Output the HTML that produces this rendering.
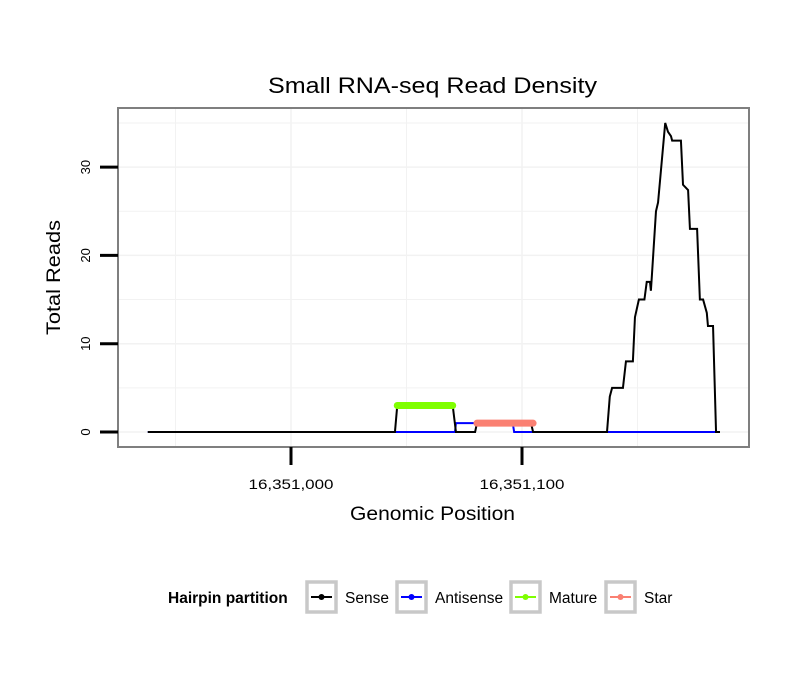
<!DOCTYPE html>
<html><head><meta charset="utf-8"><style>
body{margin:0;background:#fff;}
svg text{font-family:"Liberation Sans",sans-serif;}
</style></head><body>
<svg id="chart" width="810" height="690" xmlns="http://www.w3.org/2000/svg">
<rect width="810" height="690" fill="#fff"/>
<text x="268" y="93" font-size="22" textLength="329" lengthAdjust="spacingAndGlyphs">Small RNA-seq Read Density</text>
<g id="grid"></g>
<g id="series"></g>
<rect x="118" y="108" width="631" height="339" fill="none" stroke="#7f7f7f" stroke-width="2"/>
<g id="axes"></g>
<text x="350" y="520" font-size="19" textLength="165" lengthAdjust="spacingAndGlyphs">Genomic Position</text>
<text transform="translate(60,335) rotate(-90)" font-size="19" textLength="115" lengthAdjust="spacingAndGlyphs">Total Reads</text>
<g>
<text x="168" y="603" font-size="15.5" font-weight="bold">Hairpin partition</text>
<g id="legend-items"></g>
</g>
</svg>
<script>
const base = 16351000;
const senseX = [-62,45,46,70,71.4,79.7,80.5,103.9,104.8,136.8,138,139,143.7,145,148,148.9,150.6,153,154,155.4,155.8,156.3,158,158.9,162,163.2,164.5,165,168.8,169.7,171.9,172.7,175.8,177,178.4,180,180.5,182.7,184,185.7];
const senseY = [0,0,3,3,0,0,1,1,0,0,4,5,5,8,8,13,15,15,17,17,16,18,25,26,35,34,33.5,33,33,28,27.4,23,23,15,15,13.5,12,12,0,0];
const antiX = [-62,71,71.4,79.7,80.5,96,96.6,104.8,185.7];
const antiY = [0,0,1,1,1,1,0,0,0];
const matureX = [46,70];
const matureY = [3,3];
const starX = [80.5,104.8];
const starY = [1,1];
const yTicks = [0,10,20,30];
const xTicks = [0,100];
const xTickLabels = ["16,351,000","16,351,100"];
const legendLabels = ["Sense","Antisense","Mature","Star"];
const legendColors = ["#000","#0000ff","#7fff00","#fa8072"];

const NS="http://www.w3.org/2000/svg";
const xs = b => 291 + b*2.31;
const ys = v => 432 - v*8.83;
function mk(tag, attrs, parent){const e=document.createElementNS(NS,tag);for(const k in attrs)e.setAttribute(k,attrs[k]);parent.appendChild(e);return e;}
const grid=document.getElementById('grid'), ser=document.getElementById('series'), axes=document.getElementById('axes');
mk('rect',{x:118,y:108,width:631,height:339,fill:'#fff'},grid);
for(let v=-5;v<=40;v+=5){const y=ys(v);if(y<109||y>446)continue;
 const l=mk('line',{x1:118,x2:749,y1:y,y2:y,stroke:'#f2f2f2','stroke-width':v%10===0?1.5:1},grid);
 
 }
for(let b=-100;b<=250;b+=50){const x=xs(b);if(x<119||x>748)continue;
 const l=mk('line',{x1:x,x2:x,y1:108,y2:447,stroke:'#f2f2f2','stroke-width':b%100===0?1.5:1},grid);
 
 }
function pts(X,Y){return X.map((x,i)=>xs(x)+','+ys(Y[i])).join(' ');}
const a=mk('polyline',{points:pts(antiX,antiY),fill:'none',stroke:'#0000ff','stroke-width':2},ser);


const s=mk('polyline',{points:pts(senseX,senseY),fill:'none',stroke:'#000','stroke-width':2},ser);


const m=mk('polyline',{points:pts(matureX,matureY),fill:'none',stroke:'#7fff00','stroke-width':7,'stroke-linecap':'round'},ser);


const st=mk('polyline',{points:pts(starX,starY),fill:'none',stroke:'#fa8072','stroke-width':7,'stroke-linecap':'round'},ser);


yTicks.forEach(v=>{const y=ys(v);
 const t=mk('line',{x1:100,x2:118,y1:y,y2:y,stroke:'#000','stroke-width':3},axes);
 
 
 const tx=mk('text',{transform:`translate(90,${y}) rotate(-90)`,'font-size':13,'text-anchor':'middle'},axes);
 tx.textContent=v;
 
 });
xTicks.forEach((b,i)=>{const x=xs(b);
 const t=mk('line',{x1:x,x2:x,y1:447,y2:465,stroke:'#000','stroke-width':3},axes);
 
 
 const tx=mk('text',{x:x-42.5,y:489,'font-size':14,textLength:85,lengthAdjust:'spacingAndGlyphs'},axes);
 tx.textContent=xTickLabels[i];
 
 });
const li=document.getElementById('legend-items');
const boxX=[305,395,509,604];
legendLabels.forEach((lab,i)=>{const x=boxX[i];
 const g=mk('g',{},li);
 
 
 mk('rect',{x:x+2,y:582,width:29,height:30,fill:'#fff',stroke:'#c8c8c8','stroke-width':3.5},g);
 mk('line',{x1:x+6,x2:x+27,y1:597,y2:597,stroke:legendColors[i],'stroke-width':2},g);
 mk('circle',{cx:x+16.5,cy:597,r:3,fill:legendColors[i]},g);
 const t=mk('text',{x:x+40,y:603,'font-size':15.5},g);
 t.textContent=lab;});
</script>
</body></html>
